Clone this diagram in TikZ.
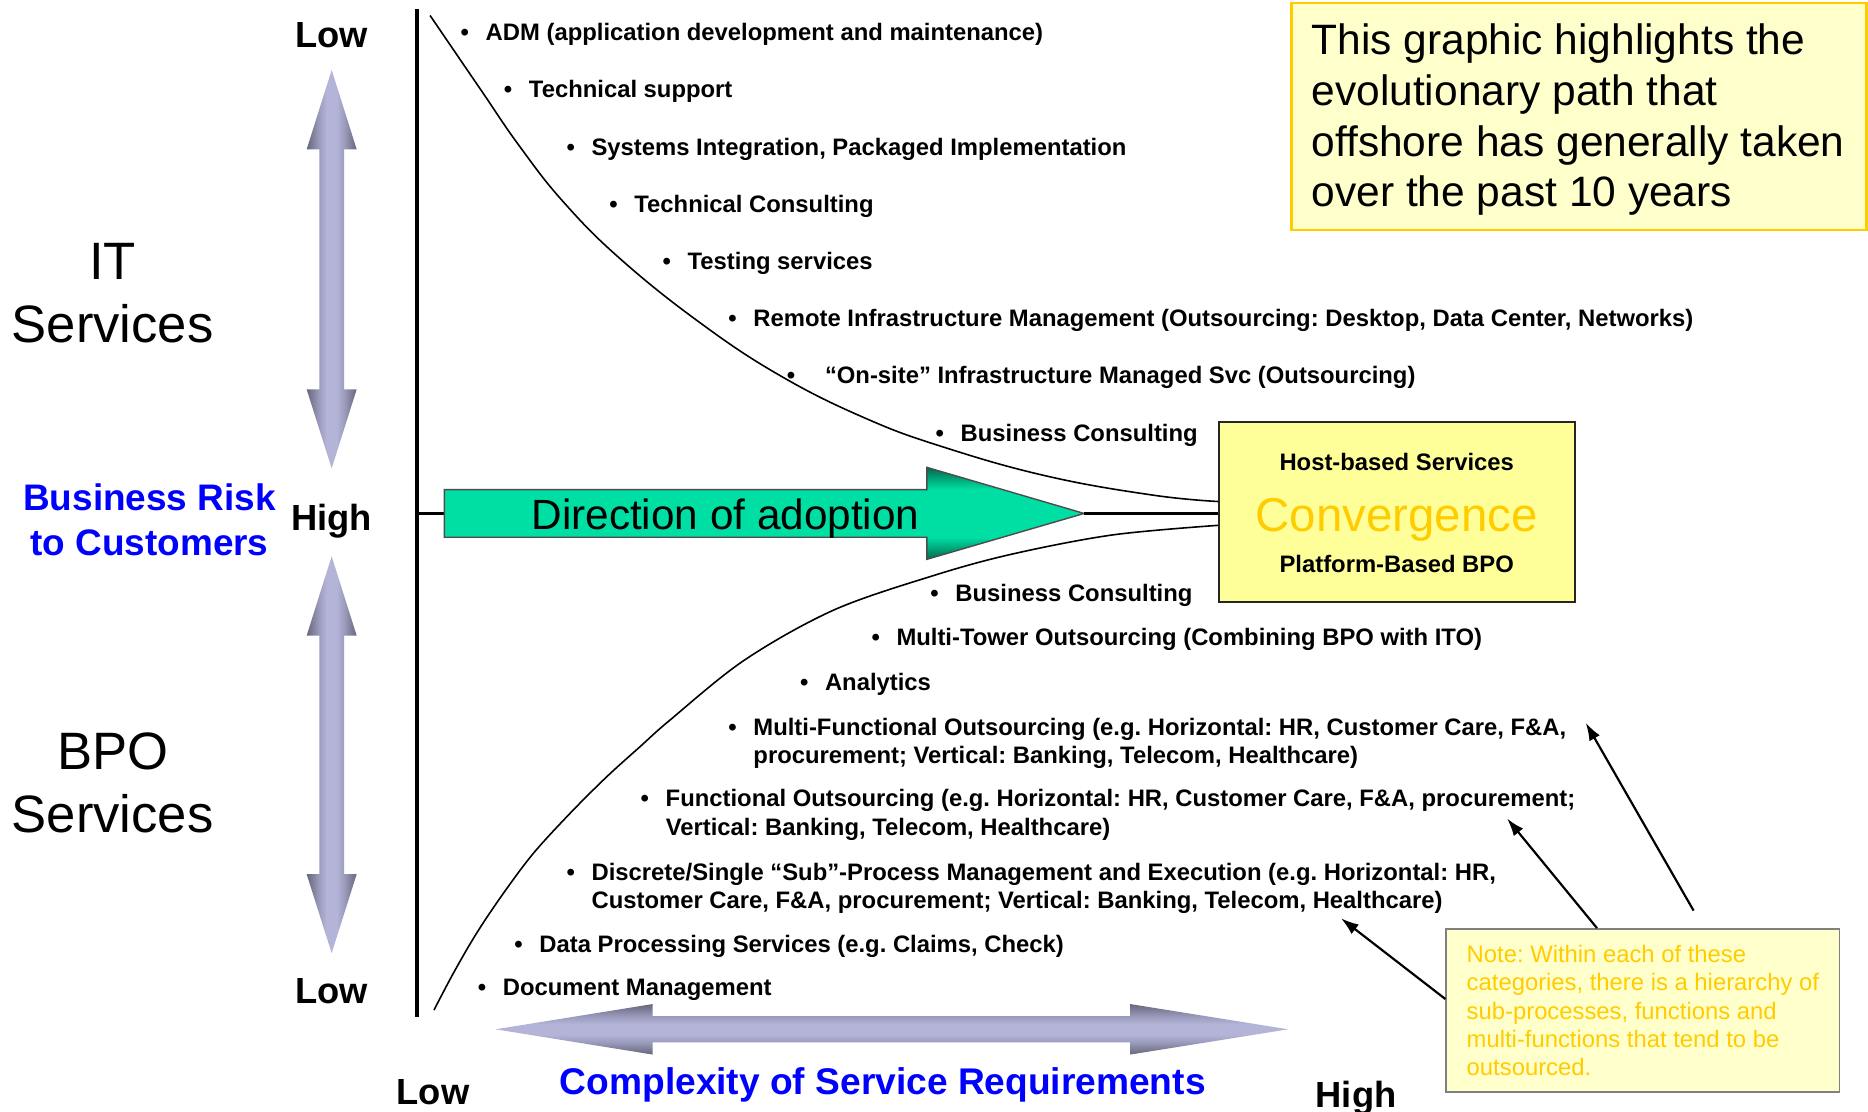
\documentclass[tikz,border=0pt]{standalone}
\usepackage{fontspec}
\setmainfont{Liberation Sans}
\usetikzlibrary{arrows.meta}
\definecolor{lavL}{HTML}{B4B4D8}
\definecolor{lavM}{HTML}{9A9ABC}
\definecolor{lavD}{HTML}{66667A}
\definecolor{grL}{HTML}{00DFA3}
\definecolor{grD}{HTML}{006A4E}
\definecolor{gold}{HTML}{FFCC00}
\definecolor{paleY}{HTML}{FFFFCC}
\definecolor{convY}{HTML}{FFFF99}
\definecolor{rblue}{HTML}{0000FF}
\pgfdeclarehorizontalshading{lavx}{100bp}{color(0bp)=(lavD); color(25bp)=(lavD); color(37bp)=(lavM); color(45bp)=(lavL); color(55bp)=(lavL); color(63bp)=(lavM); color(75bp)=(lavD); color(100bp)=(lavD)}
\pgfdeclareverticalshading{lavy}{100bp}{color(0bp)=(lavD); color(25bp)=(lavD); color(37bp)=(lavM); color(45bp)=(lavL); color(55bp)=(lavL); color(63bp)=(lavM); color(75bp)=(lavD); color(100bp)=(lavD)}
\pgfdeclareverticalshading{greeny}{100bp}{color(0bp)=(grD); color(25bp)=(grD); color(37bp)=(grL); color(63bp)=(grL); color(75bp)=(grD); color(100bp)=(grD)}
\newcommand\fsz[2]{\fontsize{#1}{#2}\selectfont}
\newcommand\bulmark[1][10.5pt]{\llap{\makebox[0pt]{•}\hspace{#1}}}
\begin{document}
\frenchspacing
\begin{tikzpicture}[x=0.6pt,y=-0.6pt,
  bul/.style={anchor=west,inner sep=0pt,font=\fsz{12pt}{14.4pt}\bfseries\frenchspacing,align=left},
  lvl/.style={anchor=base,inner sep=0pt,font=\fsz{18.3pt}{22pt}\bfseries},
  big/.style={inner sep=0pt,align=center,font=\fsz{26.5pt}{32pt}},
  curve/.style={line width=0.8pt},
  notearrow/.style={line width=1.1pt,-{Latex[length=9pt,width=6pt]}}]
\useasboundingbox[fill=white] (0,0) rectangle (1568,933.4);

% vertical double arrows
\shade[shading=lavx] (278.4,58.8) -- (299.4,125.4) -- (288.8,125.4) -- (288.8,326.8) -- (299.4,326.8) -- (278.4,393.1) -- (257.4,326.8) -- (268,326.8) -- (268,125.4) -- (257.4,125.4) -- cycle;
\shade[shading=lavx] (278.4,467) -- (299.4,533.6) -- (288.8,533.6) -- (288.8,733.7) -- (299.4,733.7) -- (278.4,800) -- (257.4,733.7) -- (268,733.7) -- (268,533.6) -- (257.4,533.6) -- cycle;
% horizontal double arrow
\shade[shading=lavy] (416,864) -- (547.8,842.8) -- (547.8,853) -- (948.6,853) -- (948.6,842.8) -- (1081.3,864) -- (948.6,885.2) -- (948.6,875) -- (547.8,875) -- (547.8,885.2) -- cycle;

% axis
\coordinate (axtop) at (350,7.5);
\coordinate (axbot) at (350,853.5);
\coordinate (axmid) at (350,431);
\coordinate (dirtail) at (373,431);
\coordinate (dirtip) at (910,431);
\draw[line width=1.8pt] (axtop) -- (axbot);
\draw[line width=1.7pt] (axmid) -- (dirtail);

% convergence box
\node[draw=black!85,line width=1pt,fill=convY,minimum width=179.2pt,minimum height=91pt,inner sep=0pt] (conv) at (1172.65,429.8) {};

% curves
\draw[curve] plot[smooth,tension=0.7] coordinates {(361,13) (404,76) (436,122.6) (473,169.6) (521,217.6) (588,271.2) (655,315.4) (726,350.9) (792,375.3) (879,399.7) (967,415.5) ([yshift=5.3pt]conv.west)};
\draw[curve] plot[smooth,tension=0.55] coordinates {(364.3,847.8) (380.5,817) (400,783.4) (422.5,749.9) (447.7,716.3) (478.5,682.7) (509.3,652) (537.2,626.8) (562.4,604.4) (625,554) (700,512) (784,483) (850,465) (934,449) ([yshift=-6.7pt]conv.west)};

% green arrow
\shadedraw[shading=greeny,draw=black!70,line width=0.7pt] (dirtail |- 0,411) -- (778,411) -- (778,392.3) -- (dirtip) -- (778,469.5) -- (778,451) -- (dirtail |- 0,451) -- cycle;
\node[anchor=base,inner sep=0pt,font=\fsz{21.3pt}{25pt}] (dir) at (609,444.3) {Direction of adoption};
\draw[line width=1.7pt] (dirtip) -- (dirtip -| conv.west);

% convergence texts
\node[anchor=base,inner sep=0pt,font=\fsz{12pt}{14pt}\bfseries] (host) at (1172.4,395) {Host-based Services};
\node[anchor=base,inner sep=0pt,font=\fsz{23.9pt}{28pt},text=gold] (cvg) at (1172.4,446.3) {Convergence};
\node[anchor=base,inner sep=0pt,font=\fsz{12pt}{14pt}\bfseries] (plat) at (1172.4,480.4) {Platform-Based BPO};

% left labels
\node[lvl] (lowT) at (278.5,40.2) {Low};
\node[lvl] (highM) at (278.3,445) {High};
\node[lvl] (lowB) at (278.5,842.4) {Low};
\node[lvl] (lowX) at (363.5,927.5) {Low};
\node[lvl] (highX) at (1138.3,929.6) {High};
\node[big] (its) at (94.5,246) {IT\\Services};
\node[big] (bpo) at (94.5,657.3) {BPO\\Services};
\node[inner sep=0pt,align=center,font=\fsz{18.6pt}{22.8pt}\bfseries,text=rblue] (risk) at (125.5,436.3) {Business Risk\\to Customers};
\node[anchor=base,inner sep=0pt,font=\fsz{18.7pt}{22pt}\bfseries,text=rblue] (cx) at (741,919) {Complexity of Service Requirements};

% bullet items
\node[bul] (b1) at (407.4,29.1) {\bulmark ADM (application development and maintenance)};
\node[bul] (b2) at (443.7,77) {\bulmark Technical support};
\node[bul] (b3) at (496.2,125.1) {\bulmark Systems Integration, Packaged Implementation};
\node[bul] (b4) at (532.2,173.2) {\bulmark Technical Consulting};
\node[bul] (b5) at (576.9,221) {\bulmark Testing services};
\node[bul] (b6) at (632.1,269.2) {\bulmark Remote Infrastructure Management (Outsourcing: Desktop, Data Center, Networks)};
\node[bul] (b7) at (692.2,316.8) {\bulmark[17.1pt]“On-site” Infrastructure Managed Svc (Outsourcing)};
\node[bul] (b8) at (806.1,365.7) {\bulmark Business Consulting};
\node[bul] (b9) at (801.7,500) {\bulmark Business Consulting};
\node[bul] (b10) at (752.2,537) {\bulmark Multi-Tower Outsourcing (Combining BPO with ITO)};
\node[bul] (b11) at (692.2,574.2) {\bulmark Analytics};
\node[bul] (b12) at (632.1,623.9) {\bulmark Multi-Functional Outsourcing (e.g. Horizontal: HR, Customer Care, F\&A,\\procurement; Vertical: Banking, Telecom, Healthcare)};
\node[bul] (b13) at (558.5,684) {\bulmark Functional Outsourcing (e.g. Horizontal: HR, Customer Care, F\&A, procurement;\\Vertical: Banking, Telecom, Healthcare)};
\node[bul] (b14) at (496.3,745.6) {\bulmark Discrete/Single “Sub”-Process Management and Execution (e.g. Horizontal: HR,\\Customer Care, F\&A, procurement; Vertical: Banking, Telecom, Healthcare)};
\node[bul] (b15) at (452.5,794.4) {\bulmark Data Processing Services (e.g. Claims, Check)};
\node[bul] (b16) at (421.8,831) {\bulmark Document Management};

% top-right box
\node[draw=gold,line width=1.2pt,fill=paleY,minimum width=289.6pt,minimum height=114.3pt,inner sep=0pt] (intro) at (1325.3,97.65) {};
\node[anchor=west,inner sep=0pt,align=left,font=\fsz{21.4pt}{25.5pt}] (introtxt) at (1100.6,100.5) {This graphic highlights the\\evolutionary path that\\offshore has generally taken\\over the past 10 years};

% note box
\node[draw=black!50,line width=0.9pt,fill=paleY,minimum width=198pt,minimum height=82.2pt,inner sep=0pt,align=left,text=gold,font=\fsz{12pt}{14.28pt}\frenchspacing] (note) at (1379,848.3) {Note: Within each of these\\categories, there is a hierarchy of\\sub-processes, functions and\\multi-functions that tend to be\\outsourced.};

% note arrows
\coordinate (n1s) at (1421.6,764.4);
\coordinate (n1e) at (1331,606.6);
\coordinate (n2e) at (1265,687);
\coordinate (n3e) at (1125.6,770.8);
\draw[notearrow] (n1s) -- (n1e);
\draw[notearrow] (1340.5,0 |- note.north) -- (n2e);
\draw[notearrow] (note.west |- 0,838.6) -- (n3e);
\end{tikzpicture}
\end{document}
